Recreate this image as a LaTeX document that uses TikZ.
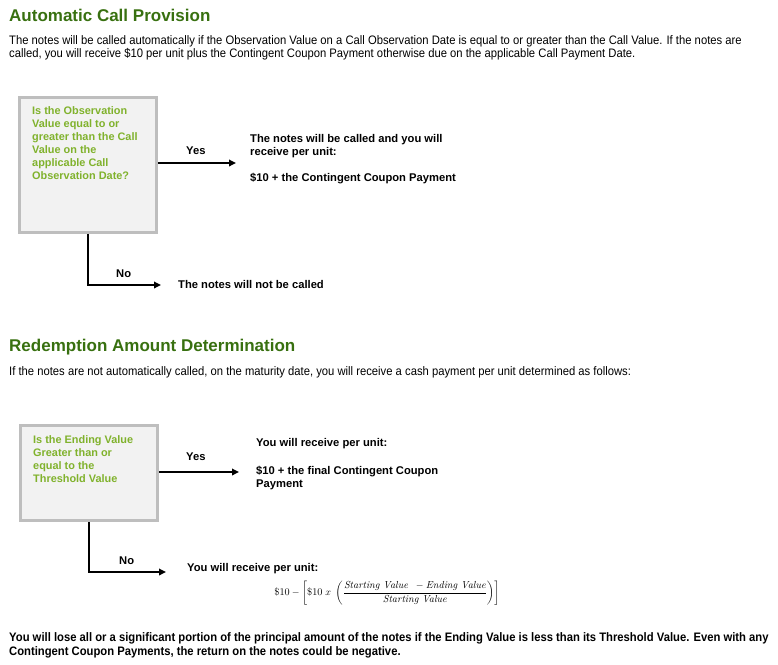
\documentclass[tikz,border=0pt]{standalone}
\usepackage{amsmath}
\usepackage{fontspec}
\setmainfont{Liberation Sans}
\newfontfamily\narrowfont[FakeStretch=0.915]{Liberation Sans}
\newfontfamily\fserif{Latin Modern Roman}
\usetikzlibrary{arrows.meta}
\definecolor{titlegreen}{RGB}{56,112,16}
\definecolor{qgreen}{RGB}{128,178,44}
\definecolor{boxgray}{RGB}{190,190,190}
\definecolor{boxfill}{RGB}{242,242,242}
\tikzset{
  title/.style={anchor=west, inner sep=0pt, font=\fontsize{17}{20}\selectfont\bfseries, text=titlegreen},
  para/.style={anchor=west, inner sep=0pt, font=\narrowfont\fontsize{12.3}{14}\selectfont},
  qbox/.style={draw=boxgray, line width=2.6pt, fill=boxfill, inner sep=0pt},
  qtext/.style={anchor=north west, inner sep=0pt, align=left, text=qgreen, font=\fontsize{10.9}{13}\selectfont\bfseries},
  btext/.style={anchor=west, inner sep=0pt, font=\fontsize{11.2}{13}\selectfont\bfseries},
  conn/.style={line width=1.7pt, -{Triangle[length=7pt,width=6.5pt]}},
}
\newcommand{\sv}[1]{\text{\fserif\itshape #1}}
\begin{document}
\begin{tikzpicture}[x=1pt,y=-1pt]
\useasboundingbox (0,0) rectangle (778,664);
% Section 1
\node[title] (t1) at (9,15) {Automatic Call Provision};
\node[para] (p1a) at (9,41) {The notes will be called automatically if the Observation Value on a Call Observation Date is equal to or greater than the Call Value. If the notes are};
\node[para] (p1b) at (9,54) {called, you will receive \$10 per unit plus the Contingent Coupon Payment otherwise due on the applicable Call Payment Date.};

\node[qbox, minimum width=137pt, minimum height=135pt] (box1) at (88,165) {};
\node[qtext] (q1) at (32,106.5) {Is the Observation\\Value equal to or\\greater than the Call\\Value on the\\applicable Call\\Observation Date?};

\coordinate (y1end) at (236,163);
\draw[conn] (box1.east |- y1end) -- (y1end);
\node[btext] (yes1) at (186,151) {Yes};
\node[btext, anchor=north west, align=left] (r1) at (250,134) {The notes will be called and you will\\receive per unit:\\[13pt]\$10 + the Contingent Coupon Payment};

\coordinate (n1corner) at (box1.south |- 0,285);
\coordinate (n1end) at (161,285);
\draw[conn] (box1.south) -- (n1corner) -- (n1end);
\node[btext] (no1) at (116,274) {No};
\node[btext] (r1no) at (178,284) {The notes will not be called};

% Section 2
\node[title] (t2) at (9,347) {Redemption Amount Determination};
\node[para] (p2) at (9,372) {If the notes are not automatically called, on the maturity date, you will receive a cash payment per unit determined as follows:};

\node[qbox, minimum width=137pt, minimum height=95pt] (box2) at (89,473) {};
\node[qtext] (q2) at (33,435.5) {Is the Ending Value\\Greater than or\\equal to the\\Threshold Value};

\coordinate (y2end) at (239,472);
\draw[conn] (box2.east |- y2end) -- (y2end);
\node[btext] (yes2) at (186,457) {Yes};
\node[btext] (r2a) at (256,444) {You will receive per unit:};
\node[btext, anchor=north west, align=left] (r2b) at (256,465.5) {\$10 + the final Contingent Coupon\\Payment};

\coordinate (n2corner) at (box2.south |- 0,572);
\coordinate (n2end) at (166,572);
\draw[conn] (box2.south) -- (n2corner) -- (n2end);
\node[btext] (no2) at (119,561) {No};
\node[btext] (r2no) at (187,568.5) {You will receive per unit:};
\node[inner sep=0pt, font=\fontsize{10.2}{12}\selectfont] (formula) at (387,593) {$\text{\fserif\$10}-\left[\text{\fserif\$10}\;x\;\left(\dfrac{\sv{Starting Value}\ \ -\sv{Ending Value}}{\sv{Starting Value}}\right)\right]$};

% bottom
\node[para, font=\narrowfont\fontsize{12.3}{14}\selectfont\bfseries] (b1) at (9,638) {You will lose all or a significant portion of the principal amount of the notes if the Ending Value is less than its Threshold Value. Even with any};
\node[para, font=\narrowfont\fontsize{12.3}{14}\selectfont\bfseries] (b2) at (9,652) {Contingent Coupon Payments, the return on the notes could be negative.};
\end{tikzpicture}
\end{document}
